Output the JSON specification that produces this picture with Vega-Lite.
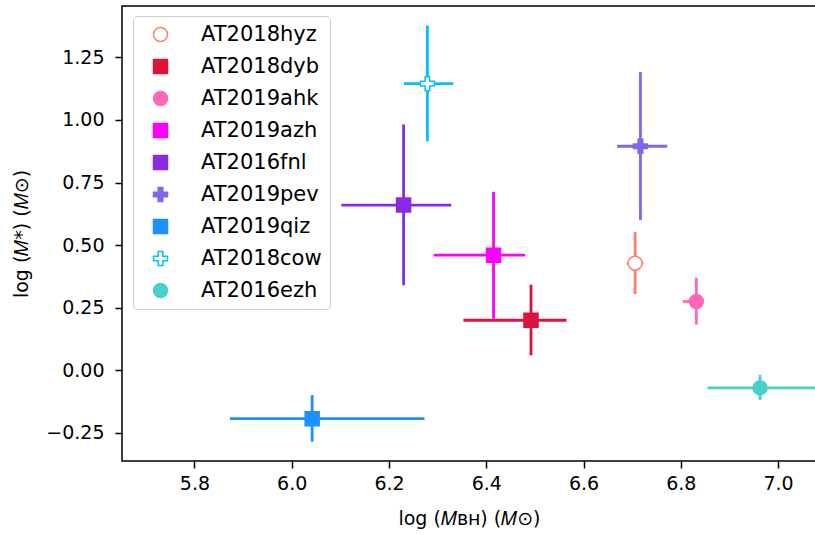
{
  "$schema": "https://vega.github.io/schema/vega-lite/v6.json",
  "width": 694,
  "height": 455,
  "autosize": {"type": "none"},
  "padding": {"left": 122, "top": 6, "right": 0, "bottom": 74},
  "background": "white",
  "config": {
    "view": {"stroke": "black", "strokeWidth": 1.5},
    "font": "DejaVu Sans",
    "axis": {
      "domain": false, "grid": false,
      "tickColor": "black", "tickWidth": 1.5, "tickSize": 7,
      "labelColor": "black", "labelFontSize": 19, "labelFont": "DejaVu Sans",
      "titleFont": "DejaVu Sans", "titleFontSize": 19, "titleFontWeight": "normal", "titleColor": "black"
    },
    "axisX": {"labelPadding": 6, "titlePadding": 16},
    "axisY": {"labelPadding": 11, "titlePadding": 14},
    "legend": {
      "orient": "none", "legendX": 11, "legendY": 10, "zindex": 2,
      "padding": 8, "symbolOffset": 9, "labelOffset": 30,
      "labelFontSize": 21, "labelFont": "DejaVu Sans", "labelColor": "black",
      "strokeColor": "#cccccc", "fillColor": "rgba(255,255,255,0.8)", "cornerRadius": 4,
      "rowPadding": 10, "symbolSize": 196, "symbolStrokeWidth": 1.5, "labelLimit": 300
    }
  },
  "data": {
    "values": [
      {"name": "AT2018hyz", "x": 6.706, "xlo": 6.689, "xhi": 6.723, "y": 0.428, "ylo": 0.305, "yhi": 0.553},
      {"name": "AT2018dyb", "x": 6.492, "xlo": 6.353, "xhi": 6.565, "y": 0.200, "ylo": 0.060, "yhi": 0.342},
      {"name": "AT2019ahk", "x": 6.832, "xlo": 6.804, "xhi": 6.845, "y": 0.275, "ylo": 0.183, "yhi": 0.370},
      {"name": "AT2019azh", "x": 6.415, "xlo": 6.292, "xhi": 6.480, "y": 0.460, "ylo": 0.206, "yhi": 0.713},
      {"name": "AT2016fnl", "x": 6.230, "xlo": 6.102, "xhi": 6.328, "y": 0.660, "ylo": 0.340, "yhi": 0.982},
      {"name": "AT2019pev", "x": 6.717, "xlo": 6.669, "xhi": 6.772, "y": 0.895, "ylo": 0.600, "yhi": 1.191},
      {"name": "AT2019qiz", "x": 6.042, "xlo": 5.873, "xhi": 6.273, "y": -0.193, "ylo": -0.285, "yhi": -0.099},
      {"name": "AT2018cow", "x": 6.279, "xlo": 6.231, "xhi": 6.332, "y": 1.145, "ylo": 0.915, "yhi": 1.377},
      {"name": "AT2016ezh", "x": 6.963, "xlo": 6.855, "xhi": 7.08, "y": -0.070, "ylo": -0.118, "yhi": -0.018}
    ]
  },
  "layer": [
    {
      "mark": {"type": "rule", "strokeWidth": 2.8, "clip": true},
      "encoding": {
        "x": {"field": "xlo", "type": "quantitative",
              "scale": {"domain": [5.651, 7.078], "nice": false, "zero": false},
              "axis": {"values": [5.8, 6.0, 6.2, 6.4, 6.6, 6.8, 7.0], "format": ".1f", "title": "log (𝑀ʙʜ) (𝑀⊙)"}},
        "x2": {"field": "xhi"},
        "y": {"field": "y", "type": "quantitative",
              "scale": {"domain": [-0.362, 1.455], "nice": false, "zero": false},
              "axis": {"values": [-0.25, 0, 0.25, 0.5, 0.75, 1.0, 1.25], "format": ".2f", "title": "log (𝑀*) (𝑀⊙)"}},
        "stroke": {"field": "name", "type": "nominal",
                   "scale": {"domain": ["AT2018hyz", "AT2018dyb", "AT2019ahk", "AT2019azh", "AT2016fnl", "AT2019pev", "AT2019qiz", "AT2018cow", "AT2016ezh"],
                             "range": ["#FA8072", "#DC143C", "#FF69B4", "#FF00FF", "#8A2BE2", "#7B68EE", "#1E90FF", "#00BFFF", "#48D1CC"]},
                   "legend": {"title": null}}
      }
    },
    {
      "mark": {"type": "rule", "strokeWidth": 2.8, "clip": true},
      "encoding": {
        "x": {"field": "x", "type": "quantitative", "title": "log (𝑀ʙʜ) (𝑀⊙)"},
        "y": {"field": "ylo", "type": "quantitative", "title": "log (𝑀*) (𝑀⊙)"},
        "y2": {"field": "yhi"},
        "stroke": {"field": "name", "type": "nominal", "legend": {"title": null}}
      }
    },
    {
      "mark": {"type": "point", "filled": true, "opacity": 1, "strokeWidth": 1.5, "size": 196, "clip": true},
      "encoding": {
        "x": {"field": "x", "type": "quantitative", "title": "log (𝑀ʙʜ) (𝑀⊙)"},
        "y": {"field": "y", "type": "quantitative", "title": "log (𝑀*) (𝑀⊙)"},
        "shape": {"field": "name", "type": "nominal",
                  "scale": {"domain": ["AT2018hyz", "AT2018dyb", "AT2019ahk", "AT2019azh", "AT2016fnl", "AT2019pev", "AT2019qiz", "AT2018cow", "AT2016ezh"],
                            "range": ["circle", "square", "circle", "square", "square",
                                      "M-0.33,-1L0.33,-1L0.33,-0.33L1,-0.33L1,0.33L0.33,0.33L0.33,1L-0.33,1L-0.33,0.33L-1,0.33L-1,-0.33L-0.33,-0.33Z",
                                      "square",
                                      "M-0.33,-1L0.33,-1L0.33,-0.33L1,-0.33L1,0.33L0.33,0.33L0.33,1L-0.33,1L-0.33,0.33L-1,0.33L-1,-0.33L-0.33,-0.33Z",
                                      "circle"]},
                  "legend": {"title": null}},
        "stroke": {"field": "name", "type": "nominal", "legend": {"title": null}},
        "fill": {"field": "name", "type": "nominal",
                 "scale": {"domain": ["AT2018hyz", "AT2018dyb", "AT2019ahk", "AT2019azh", "AT2016fnl", "AT2019pev", "AT2019qiz", "AT2018cow", "AT2016ezh"],
                           "range": ["#FFFFFF", "#DC143C", "#FF69B4", "#FF00FF", "#8A2BE2", "#7B68EE", "#1E90FF", "#FFFFFF", "#48D1CC"]},
                 "legend": {"title": null}}
      }
    }
  ]
}
